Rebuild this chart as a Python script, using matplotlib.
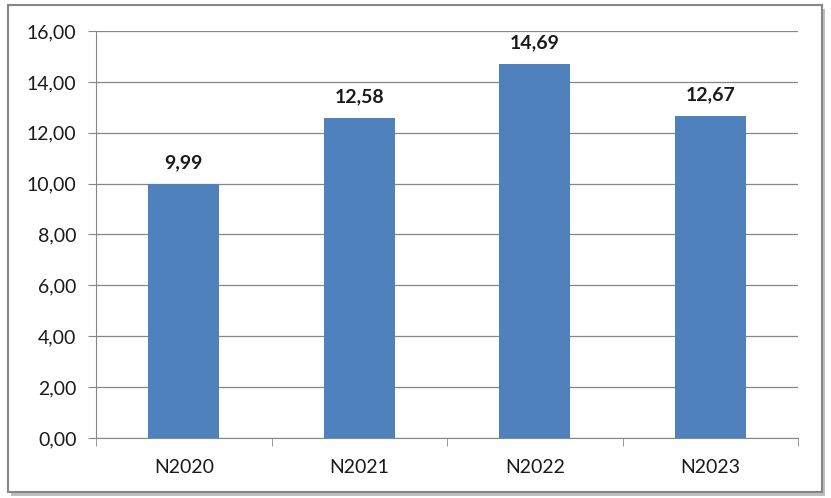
import matplotlib.pyplot as plt
from matplotlib.patches import Rectangle
from matplotlib.ticker import FuncFormatter, FixedLocator
import numpy as np

# данные
categories = ['N2020', 'N2021', 'N2022', 'N2023']
values = [9.99, 12.58, 14.69, 12.67]

plt.rcParams['font.family'] = ['Lato', 'DejaVu Sans']

fig = plt.figure(figsize=(8.31, 4.98), dpi=100)

# рамка вокруг диаграммы с тенью (под осями)
fig.patches.append(Rectangle((11 / 831, 1 - 496 / 498), 814 / 831, 487 / 498,
                             transform=fig.transFigure, facecolor='#bfbfbf',
                             edgecolor='none', zorder=-2))
fig.patches.append(Rectangle((8 / 831, 1 - 492 / 498), 814 / 831, 487 / 498,
                             transform=fig.transFigure, facecolor='white',
                             edgecolor='#868686', linewidth=1.5, zorder=-1))

ax = fig.add_axes([96 / 831, 1 - 438 / 498, 702 / 831, 407 / 498])
ax.set_facecolor('none')

x = np.arange(len(categories))
ax.bar(x, values, width=0.405, color='#4F81BD', zorder=3)

for xi, v in zip(x, values):
    ax.text(xi, v + 0.5, f'{v:.2f}'.replace('.', ','), ha='center', va='bottom',
            fontsize=14, fontweight='bold', color='#1a1a1a')

ax.set_xlim(-0.5, len(categories) - 0.5)
ax.set_ylim(0, 16)
ax.set_yticks(np.arange(0, 17, 2))
ax.yaxis.set_major_formatter(FuncFormatter(lambda v, p: f'{v:.2f}'.replace('.', ',')))
ax.yaxis.grid(True, color='#868686', linewidth=0.9, zorder=0)

ax.set_xticks(x)
ax.set_xticklabels(categories)
ax.xaxis.set_minor_locator(FixedLocator(np.arange(-0.5, len(categories), 1)))
ax.tick_params(axis='x', which='major', length=0, pad=15, labelsize=14, labelcolor='#1a1a1a')
ax.tick_params(axis='x', which='minor', length=6, color='#868686', direction='out')
ax.tick_params(axis='y', length=6, color='#868686', pad=8, labelsize=14, labelcolor='#1a1a1a')

for s in ['top', 'right']:
    ax.spines[s].set_visible(False)
ax.spines['left'].set_color('#868686')
ax.spines['bottom'].set_color('#868686')

plt.savefig('out.png', dpi=100)
